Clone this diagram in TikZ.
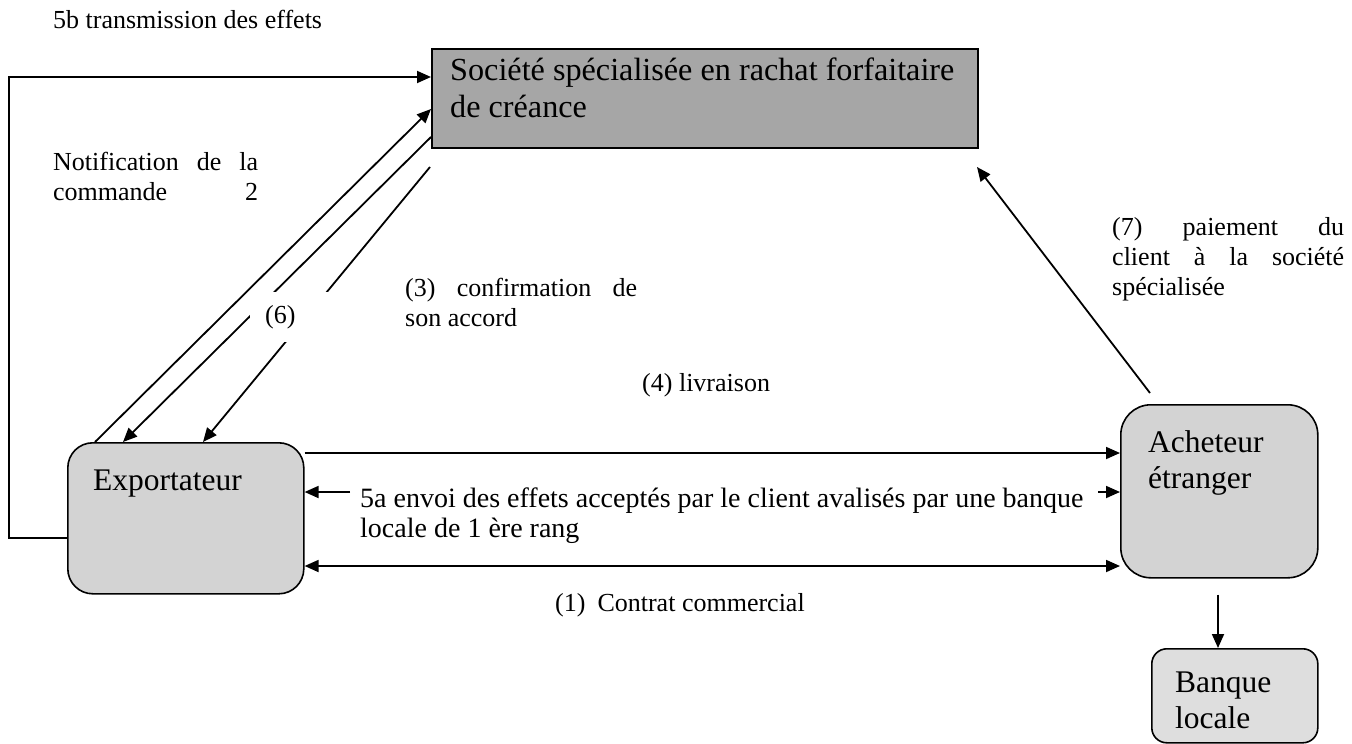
\documentclass[tikz,border=0pt]{standalone}
\usepackage{fontspec}
\setmainfont{Liberation Serif}
\usetikzlibrary{arrows.meta,calc}
\definecolor{socfill}{RGB}{166,166,166}
\definecolor{boxfill}{RGB}{211,211,211}
\definecolor{banfill}{RGB}{222,222,222}
\newcommand{\smtxt}{\fontsize{26}{30}\selectfont}
\newcommand{\mdtxt}{\fontsize{28}{30}\selectfont}
\newcommand{\bigtxt}{\fontsize{31.5}{36.5}\selectfont}
\newcommand{\soctxt}{\fontsize{32.2}{37}\selectfont}
\newcommand{\jl}[2]{\makebox[#1][s]{#2}}
\begin{document}
\begin{tikzpicture}[x=1pt,y=-1pt,
  box/.style={draw=black, line width=1.6pt, inner sep=0pt, anchor=north west},
  rbox/.style={box, fill=boxfill},
  txt/.style={inner sep=0pt, anchor=base west, font=\smtxt},
  bigt/.style={inner sep=0pt, anchor=base west, font=\bigtxt},
  arr/.style={line width=1.8pt, -{Triangle[length=14pt,width=12pt]}},
  dbl/.style={line width=1.8pt, {Triangle[length=14pt,width=12pt]}-{Triangle[length=14pt,width=12pt]}}]
\useasboundingbox (0,0) rectangle (1352,744);
% boxes
\node[box, fill=socfill, minimum width=546pt, minimum height=99pt] (soc) at (431,48) {};
\node[rbox, rounded corners=25pt, minimum width=236pt, minimum height=151pt] (exp) at (67,442) {};
\node[rbox, rounded corners=30pt, minimum width=197pt, minimum height=173pt] (ach) at (1120,404) {};
\node[box, fill=banfill, rounded corners=15pt, minimum width=166pt, minimum height=94pt] (ban) at (1151,648) {};
% free ends
\coordinate (c3) at (430,167);
\coordinate (a5l) at (350,492);
\coordinate (a5r) at (1098,492);
\coordinate (p7s) at (1150,393);
\coordinate (p7e) at (977,167);
% connectors
\draw[arr] ($(exp.north west)+(0,96)$) -- ++(-58,0) |- ($(soc.north west)+(0,29)$);
\draw[arr] ($(exp.north west)+(28,0)$) -- ($(soc.north west)+(0,61)$);
\draw[arr] ($(soc.north west)+(0,89)$) -- ($(exp.north west)+(56,0)$);
\draw[arr] (c3) -- ($(exp.north west)+(136,0)$);
\draw[arr] ($(exp.north east)+(0,11)$) -- ($(ach.north west)+(0,49)$);
\draw[arr] (a5l) -- (exp.east |- a5l);
\draw[arr] (a5r) -- (ach.west |- a5r);
\draw[dbl] ($(exp.north east)+(0,124)$) -- ($(ach.north west)+(0,162)$);
\draw[arr] (p7s) -- (p7e);
\draw[arr] ($(ach.south west)+(98,16)$) -- ($(ban.north west)+(67,0)$);
% label (6) on white
\node[fill=white, inner sep=0pt, minimum width=80pt, minimum height=50pt, anchor=north west,
      text width=80pt, align=left, font=\smtxt] (l6) at (250,292) {\hspace*{15pt}(6)};
% texts
\node[txt] (t5b) at (53,28) {5b transmission des effets};
\node[inner sep=0pt, anchor=base west, font=\soctxt] (tsoc) at (450,80)
  {\parbox[t]{520pt}{\soctxt Société spécialisée en rachat forfaitaire\\de créance}};
\node[txt] (tnot) at (53,170)
  {\parbox[t]{205pt}{\smtxt \jl{205pt}{Notification de la}\\\makebox[205pt]{commande\hfill 2}}};
\node[txt] (t3) at (405,296)
  {\parbox[t]{232pt}{\smtxt \jl{232pt}{(3) confirmation de}\\son accord}};
\node[txt] (t4) at (642,391) {(4) livraison};
\node[txt, font=\mdtxt] (t5a) at (360,507)
  {\parbox[t]{740pt}{\mdtxt 5a envoi des effets acceptés par le client avalisés par une banque\\locale de 1 ère rang}};
\node[txt] (t1) at (555,611) {(1)\hspace{12pt}Contrat commercial};
\node[txt] (t7) at (1112,235)
  {\parbox[t]{232pt}{\smtxt \jl{232pt}{(7) paiement du}\\\jl{232pt}{client à la société}\\spécialisée}};
\node[bigt] (texp) at (93,490) {Exportateur};
\node[bigt] (tach) at (1148,452) {\parbox[t]{160pt}{\bigtxt Acheteur\\étranger}};
\node[bigt] (tban) at (1175,692) {\parbox[t]{130pt}{\bigtxt Banque\\locale}};
\end{tikzpicture}
\end{document}
